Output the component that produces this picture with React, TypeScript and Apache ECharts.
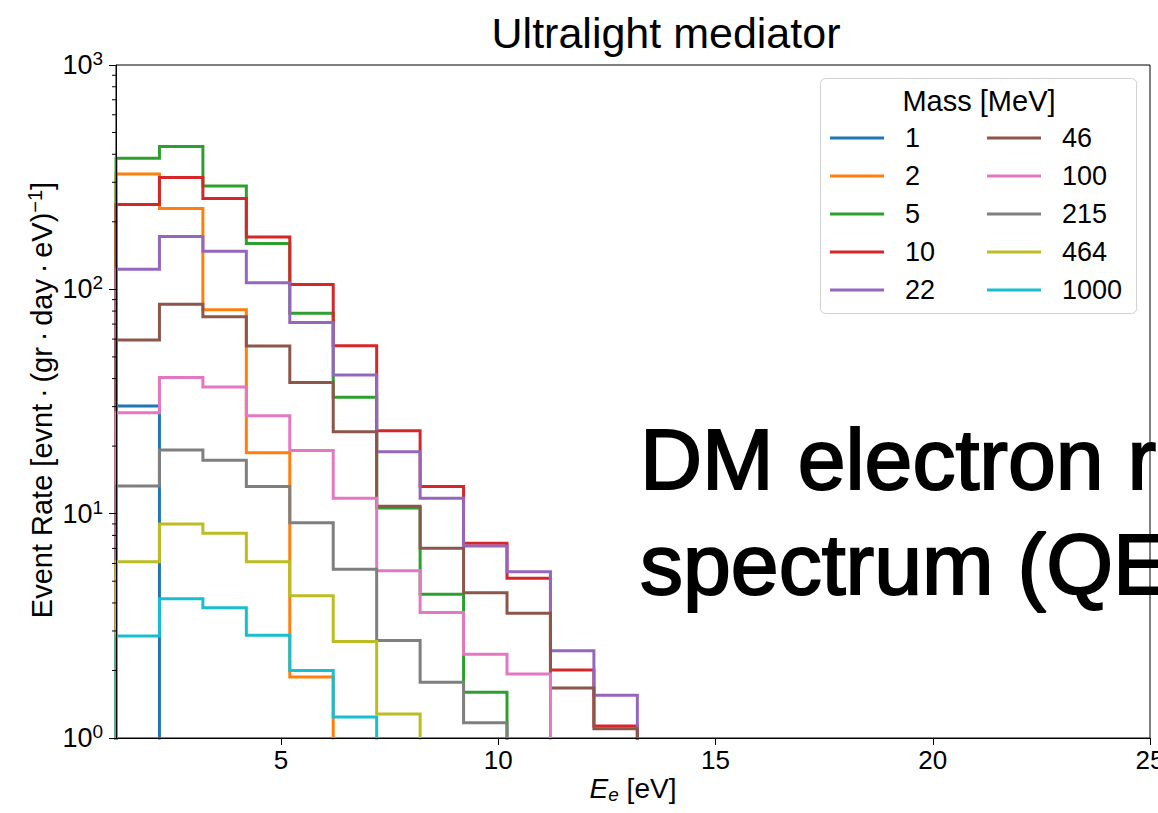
import React, { useEffect, useRef } from "react";
import * as echarts from "echarts";

// Histogram bin edges in recoil energy [eV]
const binEdges = [1.2, 2.2, 3.2, 4.2, 5.2, 6.2, 7.2, 8.2, 9.2, 10.2, 11.2, 12.2, 13.2];

// DM masses [MeV]
const massLabels = ["1", "2", "5", "10", "22", "46", "100", "215", "464", "1000"];

// Event rate per bin [evnt/(gr day eV)], one array per mass
const rateM1 = [30.2];
const rateM2 = [327, 229, 81, 18.7, 1.87];
const rateM5 = [384, 433, 289, 160, 78.2, 33.0, 10.6, 4.37, 1.6];
const rateM10 = [239, 315, 254, 171, 105, 56.1, 23.4, 13.2, 7.38, 5.15, 2.01, 1.13];
const rateM22 = [123, 172, 148, 107, 71.1, 41.5, 18.9, 11.7, 7.18, 5.51, 2.45, 1.55];
const rateM46 = [59.5, 85.9, 75.5, 55.9, 38.4, 23.2, 10.8, 7.01, 4.44, 3.6, 1.67, 1.1];
const rateM100 = [28.2, 40.5, 36.7, 27.3, 19.1, 11.7, 5.57, 3.63, 2.36, 1.93];
const rateM215 = [13.3, 19.2, 17.3, 13.2, 9.12, 5.65, 2.72, 1.77, 1.17];
const rateM464 = [6.11, 9.0, 8.18, 6.11, 4.31, 2.69, 1.28];
const rateM1000 = [2.85, 4.18, 3.81, 2.87, 2.0, 1.24];

const rates = [rateM1, rateM2, rateM5, rateM10, rateM22, rateM46, rateM100, rateM215, rateM464, rateM1000];

const seriesColors = [
  "#1f77b4", "#ff7f0e", "#2ca02c", "#d62728", "#9467bd",
  "#8c564b", "#e377c2", "#7f7f7f", "#bcbd22", "#17becf",
];

const xTickValues = [5, 10, 15, 20, 25];
const yMinorTickValues = [
  2, 3, 4, 5, 6, 7, 8, 9,
  20, 30, 40, 50, 60, 70, 80, 90,
  200, 300, 400, 500, 600, 700, 800, 900,
];

const X_MIN = 1.2;
const X_MAX = 25;
// value used for the closing drop of each step outline; lies under the log axis floor
const DROP = 1e-3;

const FONT = "'Liberation Sans', Arial, Helvetica, sans-serif";

function stepOutline(values: number[]): [number, number][] {
  const pts: [number, number][] = [[binEdges[0], DROP]];
  values.forEach((v, i) => {
    pts.push([binEdges[i], v]);
    pts.push([binEdges[i + 1], v]);
  });
  pts.push([binEdges[values.length], DROP]);
  return pts;
}

export default function App() {
  const ref = useRef<HTMLDivElement>(null);

  useEffect(() => {
    if (!ref.current) return;
    const chart = echarts.init(ref.current, undefined, { renderer: "svg" });

    const histSeries = rates.map((vals, i) => ({
      name: massLabels[i],
      type: "line",
      data: stepOutline(vals),
      symbol: "none",
      showSymbol: false,
      color: seriesColors[i],
      lineStyle: { width: 3, color: seriesColors[i], join: "miter" },
      clip: true,
      silent: true,
      z: 2,
    }));

    const minorTickSeries = {
      type: "custom",
      silent: true,
      clip: false,
      z: 5,
      data: yMinorTickValues.map((v) => [X_MIN, v]),
      renderItem: (_params: any, api: any) => {
        const p = api.coord([api.value(0), api.value(1)]);
        return {
          type: "line",
          shape: { x1: p[0] - 4, y1: p[1], x2: p[0], y2: p[1] },
          style: { stroke: "#000", lineWidth: 1 },
        };
      },
    };

    const legendBase = {
      orient: "vertical",
      top: 124,
      padding: 0,
      itemWidth: 54,
      itemHeight: 3,
      itemGap: 10,
      icon: "rect",
      selectedMode: false,
      textStyle: {
        fontSize: 27,
        lineHeight: 28,
        fontFamily: FONT,
        color: "#000",
        padding: [0, 0, 0, 16],
      },
      z: 10,
    };

    chart.setOption({
      animation: false,
      backgroundColor: "#fff",
      grid: {
        left: 116,
        top: 65,
        right: 8,
        bottom: 75,
        show: true,
        borderColor: "#000",
        borderWidth: 1,
        backgroundColor: "transparent",
        outerBoundsMode: "none",
      },
      xAxis: {
        type: "value",
        min: X_MIN,
        max: X_MAX,
        z: 3,
        axisLine: { show: true, lineStyle: { color: "#000", width: 1 } },
        axisTick: {
          show: true,
          inside: false,
          length: 7,
          customValues: xTickValues,
          lineStyle: { color: "#000" },
        },
        axisLabel: {
          customValues: xTickValues,
          fontSize: 26,
          fontFamily: FONT,
          color: "#000",
          margin: 9,
        },
        splitLine: { show: false },
      },
      yAxis: {
        type: "log",
        logBase: 10,
        min: 1,
        max: 1000,
        z: 3,
        axisLine: { show: true, lineStyle: { color: "#000", width: 1 } },
        axisTick: { show: true, inside: false, length: 7, lineStyle: { color: "#000" } },
        axisLabel: {
          margin: 13,
          formatter: (v: number) => `{b|10}{s|${Math.round(Math.log10(v))}}`,
          rich: {
            b: { fontSize: 27, lineHeight: 32, fontFamily: FONT, color: "#000" },
            s: { fontSize: 19, lineHeight: 19, fontFamily: FONT, color: "#000", verticalAlign: "top" },
          },
        },
        splitLine: { show: false },
        minorTick: { show: false },
      },
      legend: [
        { ...legendBase, left: 830, data: massLabels.slice(0, 5) },
        { ...legendBase, left: 987, data: massLabels.slice(5) },
      ],
      graphic: [
        {
          type: "rect",
          z: 8,
          shape: { x: 820.5, y: 78.5, width: 316, height: 235, r: 5 },
          style: { fill: "rgba(255,255,255,0.8)", stroke: "#d0d0d0", lineWidth: 1 },
        },
        {
          type: "text",
          z: 10,
          x: 979,
          y: 101,
          style: {
            text: "Mass [MeV]",
            fontSize: 29,
            fontFamily: FONT,
            fill: "#000",
            align: "center",
            verticalAlign: "middle",
          },
        },
        {
          type: "text",
          z: 10,
          x: 666,
          y: 33,
          style: {
            text: "Ultralight mediator",
            fontSize: 43,
            fontFamily: FONT,
            fill: "#000",
            align: "center",
            verticalAlign: "middle",
          },
        },
        {
          type: "text",
          z: 10,
          x: 633,
          y: 788,
          style: {
            text: "{i|E}{sub|e}{n| [eV]}",
            align: "center",
            verticalAlign: "middle",
            rich: {
              i: { fontSize: 28, lineHeight: 32, fontStyle: "italic", fontFamily: FONT, fill: "#000" },
              sub: { fontSize: 19, lineHeight: 19, fontStyle: "italic", fontFamily: FONT, fill: "#000", verticalAlign: "bottom" },
              n: { fontSize: 28, lineHeight: 32, fontFamily: FONT, fill: "#000" },
            },
          },
        },
        {
          type: "text",
          z: 10,
          x: 42,
          y: 400,
          rotation: Math.PI / 2,
          style: {
            text: "{n|Event Rate [evnt\u2009·\u2009(gr\u2009·\u2009day\u2009·\u2009eV)}{s|\u22121}{n|]}",
            align: "center",
            verticalAlign: "middle",
            rich: {
              n: { fontSize: 29, lineHeight: 34, fontFamily: FONT, fill: "#000" },
              s: { fontSize: 20, lineHeight: 20, fontFamily: FONT, fill: "#000", verticalAlign: "top" },
            },
          },
        },
        {
          type: "text",
          z: 20,
          x: 640,
          y: 459,
          style: {
            text: "DM electron r",
            fontSize: 86,
            fontFamily: FONT,
            fill: "#000",
            stroke: "#000",
            lineWidth: 2,
            align: "left",
            verticalAlign: "middle",
          },
        },
        {
          type: "text",
          z: 20,
          x: 640,
          y: 564,
          style: {
            text: "spectrum (QE",
            fontSize: 86,
            fontFamily: FONT,
            fill: "#000",
            stroke: "#000",
            lineWidth: 2,
            align: "left",
            verticalAlign: "middle",
          },
        },
      ],
      series: [...histSeries, minorTickSeries],
    });

    return () => chart.dispose();
  }, []);

  return (
    <div
      ref={ref}
      style={{ position: "fixed", left: 0, top: 0, width: 1158, height: 813, background: "#fff" }}
    />
  );
}
